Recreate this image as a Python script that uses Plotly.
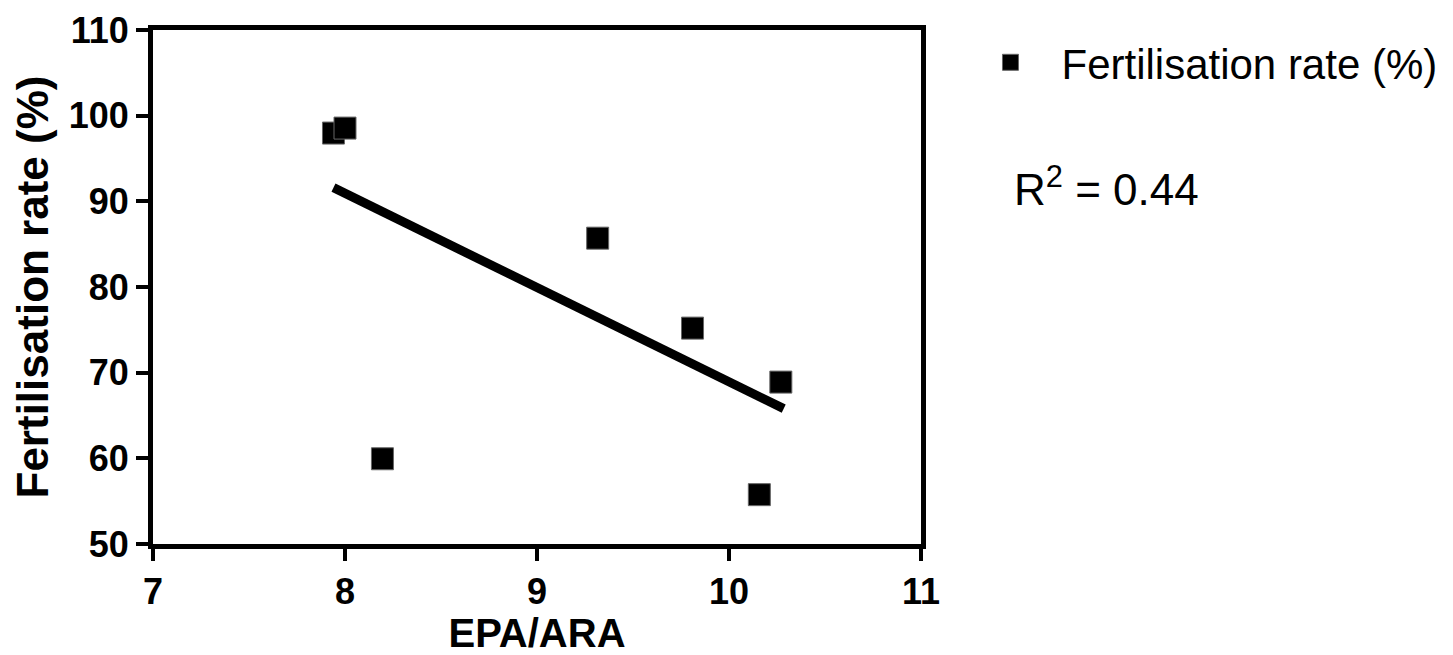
import plotly.graph_objects as go

# Data
epa_ara = [7.94, 8.00, 8.195, 9.316, 9.81, 10.158, 10.27]
fert_rate = [97.97, 98.55, 59.95, 85.7, 75.2, 55.76, 68.9]

fit_x = [7.94, 10.285]
fit_y = [91.6, 65.8]

x_ticks = [7, 8, 9, 10, 11]
y_ticks = [50, 60, 70, 80, 90, 100, 110]

series_name = "Fertilisation rate (%)"
r2_text = "R<sup>2</sup> = 0.44"

FONT = "Liberation Sans"

# figure geometry (page body has an 8px margin)
W, H = 1445, 647
PL, PR, PT, PB = 145, 913.5, 21.5, 536
PW, PH = PR - PL, PB - PT

fig = go.Figure()
fig.add_trace(go.Scatter(
    x=fit_x, y=fit_y, mode="lines",
    line=dict(color="black", width=9),
    showlegend=False, hoverinfo="skip",
))
fig.add_trace(go.Scatter(
    x=epa_ara, y=fert_rate, mode="markers", name=series_name,
    marker=dict(symbol="square", size=22, color="black",
                line=dict(color="#666666", width=1)),
))

fig.add_annotation(
    xref="paper", yref="paper", x=(1005 - PL) / PW, y=(PB - 178) / PH,
    xanchor="left", yanchor="middle", showarrow=False,
    text=r2_text, font=dict(family=FONT, size=44, color="black"),
)

axis_common = dict(
    showgrid=False, zeroline=False, showline=True, linecolor="black",
    linewidth=5, mirror=True, ticks="outside", ticklen=12, tickwidth=4,
    tickcolor="black",
    tickfont=dict(family=FONT, size=36, color="black", weight="bold"),
)

fig.update_xaxes(
    range=[7, 11], tickvals=x_ticks, ticktext=[str(v) for v in x_ticks],
    title=dict(text="EPA/ARA", font=dict(family=FONT, size=40, color="black", weight="bold"),
               standoff=11),
    **axis_common,
)
fig.update_yaxes(
    range=[50, 110], tickvals=y_ticks, ticktext=[str(v) for v in y_ticks],
    title=dict(text="Fertilisation rate (%)",
               font=dict(family=FONT, size=44, color="black", weight="bold"),
               standoff=20),
    **axis_common,
)

fig.update_layout(
    width=W, height=H,
    margin=dict(l=PL, r=W - PR, t=PT, b=H - PB, autoexpand=False),
    paper_bgcolor="white", plot_bgcolor="white",
    showlegend=True,
    legend=dict(x=(952 - PL) / PW, y=(PB - 20) / PH,
                xanchor="left", yanchor="top", itemwidth=92,
                font=dict(family=FONT, size=42, color="black"),
                bgcolor="rgba(0,0,0,0)"),
)

fig.write_html("out.html")
